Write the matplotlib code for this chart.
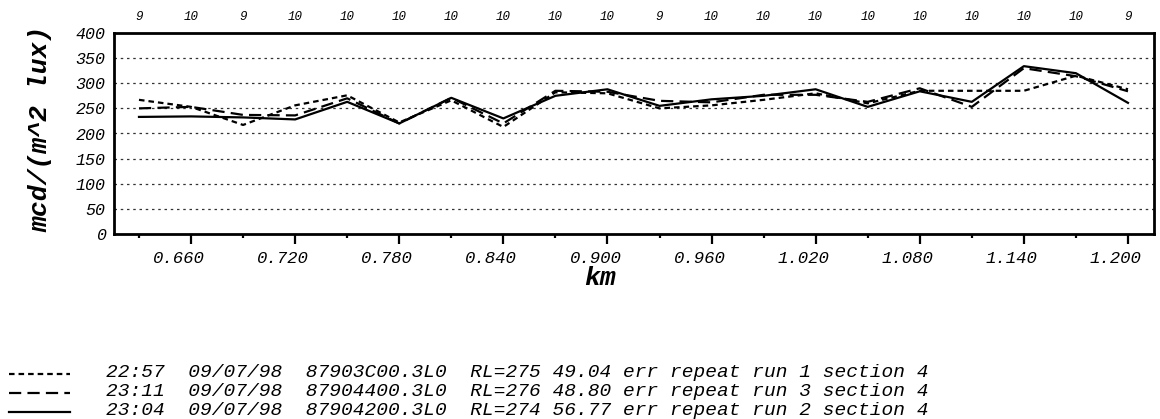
import matplotlib
matplotlib.use("Agg")
import matplotlib.pyplot as plt
import matplotlib.transforms as mtransforms
from matplotlib.lines import Line2D

# ---- data ----
km = [0.630, 0.660, 0.690, 0.720, 0.750, 0.780, 0.810, 0.840, 0.870, 0.900,
      0.930, 0.960, 0.990, 1.020, 1.050, 1.080, 1.110, 1.140, 1.170, 1.200]
counts = [9, 10, 9, 10, 10, 10, 10, 10, 10, 10, 9, 10, 10, 10, 10, 10, 10, 10, 10, 9]
run1 = [267, 253, 217, 256, 276, 222, 266, 213, 282, 280,
        250, 256, 267, 280, 260, 285, 285, 285, 315, 288]
run3 = [250, 253, 237, 236, 270, 220, 271, 220, 285, 283,
        265, 262, 277, 277, 263, 290, 253, 330, 314, 284]
run2 = [233, 234, 232, 228, 263, 220, 271, 230, 275, 288,
        255, 268, 275, 288, 253, 284, 263, 334, 320, 261]
major_ticks = [0.660, 0.720, 0.780, 0.840, 0.900, 0.960, 1.020, 1.080, 1.140, 1.200]
minor_ticks = [0.630, 0.690, 0.750, 0.810, 0.870, 0.930, 0.990, 1.050, 1.110, 1.170]
y_ticks = [0, 50, 100, 150, 200, 250, 300, 350, 400]
legend_texts = [
    "22:57  09/07/98  87903C00.3L0  RL=275 49.04 err repeat run 1 section 4",
    "23:11  09/07/98  87904400.3L0  RL=276 48.80 err repeat run 3 section 4",
    "23:04  09/07/98  87904200.3L0  RL=274 56.77 err repeat run 2 section 4",
]

SHORT = (0, (2.5, 1.8))
LONG = (0, (5.5, 2.8))
styles = [SHORT, LONG, "-"]

MONO = ["Liberation Mono", "DejaVu Sans Mono"]

W, H = 1160, 419
fig = plt.figure(figsize=(W / 100, H / 100), dpi=100)
fig.patch.set_facecolor("white")

def fx(px):
    return px / W

def fy(py):
    return 1 - py / H

left, right, top, bottom = 114, 1154, 33, 234
ax = fig.add_axes([fx(left), fy(bottom), fx(right - left), (bottom - top) / H])

lw = 1.6
ax.plot(km, run1, color="black", lw=lw, linestyle=SHORT)
ax.plot(km, run3, color="black", lw=lw, linestyle=LONG)
ax.plot(km, run2, color="black", lw=lw, linestyle="-")

ax.set_xlim(0.6156, 1.215)
ax.set_ylim(0, 400)

for yv in y_ticks[1:-1]:
    ax.axhline(yv, color="#333333", lw=0.9, linestyle=(0, (2, 3)), zorder=0)

for s in ax.spines.values():
    s.set_linewidth(2)

ax.set_xticks(major_ticks)
ax.set_xticks(minor_ticks, minor=True)
ax.set_xticklabels([f"{v:.3f}" for v in major_ticks],
                   fontfamily=MONO, fontstyle="italic", fontsize=12.5)
ax.tick_params(axis="x", which="major", direction="out", length=7, width=1.6, pad=5)
ax.tick_params(axis="x", which="minor", direction="out", length=3, width=1.6)
offset = mtransforms.ScaledTranslation(-12 / 100, 0, fig.dpi_scale_trans)
for lab in ax.get_xticklabels():
    lab.set_transform(lab.get_transform() + offset)

ax.set_yticks(y_ticks)
ax.set_yticklabels([str(v) for v in y_ticks],
                   fontfamily=MONO, fontstyle="italic", fontsize=12)
ax.tick_params(axis="y", length=0, pad=6)

fig.text(fx(600), fy(278), "km", ha="center", va="center",
         fontfamily=MONO, fontstyle="italic", fontweight="bold", fontsize=19)
fig.text(fx(40), fy(129), "mcd/(m^2 lux)", rotation=90, ha="center", va="center",
         fontfamily=MONO, fontstyle="italic", fontweight="bold", fontsize=19)

trans = mtransforms.blended_transform_factory(ax.transData, fig.transFigure)
for xv, c in zip(km, counts):
    ax.text(xv, fy(17), str(c), transform=trans, ha="center", va="center",
            fontfamily=MONO, fontstyle="italic", fontsize=9)

# legend
row_y = [372, 391, 410]
for txt, ls, yy in zip(legend_texts, styles, row_y):
    fig.add_artist(Line2D([fx(9), fx(70)], [fy(yy + 2), fy(yy + 2)],
                          transform=fig.transFigure, color="black", lw=lw, linestyle=ls))
    fig.text(fx(106), fy(yy), txt, ha="left", va="center",
             fontfamily=MONO, fontstyle="italic", fontsize=14)

fig.savefig("out.png", dpi=100, facecolor="white")
